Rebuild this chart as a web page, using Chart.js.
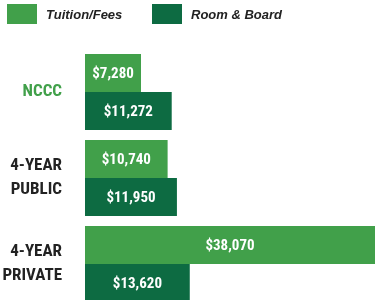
<!DOCTYPE html>
<html>
<head>
<meta charset="utf-8">
<script src="https://cdn.jsdelivr.net/npm/chart.js@4/dist/chart.umd.min.js"></script>
<style>
  html, body { margin: 0; padding: 0; width: 375px; height: 300px; overflow: hidden; background: #fff; }
  #wrap { position: relative; width: 375px; height: 307px; }
  #legend { position: absolute; left: 7px; top: 4px; display: flex; font: italic bold 13px "Liberation Sans", Arial, sans-serif; color: #222; }
  #legend .item { display: flex; align-items: center; width: 145px; }
  #legend .box { width: 30px; height: 20px; margin-right: 9px; }
</style>
</head>
<body>
<div id="wrap">
  <canvas id="costChart" width="375" height="307"></canvas>
  <div id="legend"></div>
</div>
<script>
const categories = ['NCCC', ['4-YEAR', 'PUBLIC'], ['4-YEAR', 'PRIVATE']];
const seriesNames = ['Tuition/Fees', 'Room & Board'];
const tuitionFees = [7280, 10740, 38070];
const roomBoard = [11272, 11950, 13620];
const seriesColors = ['#41a04a', '#0d6b42'];

// white $ labels inside each bar
const barLabels = {
  id: 'barLabels',
  afterDatasetsDraw(chart) {
    const ctx = chart.ctx;
    const area = chart.chartArea;
    ctx.save();
    ctx.fillStyle = '#fff';
    ctx.font = 'bold condensed 15px Roboto, sans-serif';
    ctx.textAlign = 'center';
    ctx.textBaseline = 'middle';
    chart.data.datasets.forEach((ds, i) => {
      chart.getDatasetMeta(i).data.forEach((bar, j) => {
        const right = Math.min(bar.x, area.right);
        ctx.fillText('$' + ds.data[j].toLocaleString('en-US'), (bar.base + right) / 2, bar.y + 1);
      });
    });
    ctx.restore();
  }
};

const chart = new Chart(document.getElementById('costChart'), {
  type: 'bar',
  data: {
    labels: categories,
    datasets: [
      { label: seriesNames[0], data: tuitionFees, backgroundColor: seriesColors[0] },
      { label: seriesNames[1], data: roomBoard, backgroundColor: seriesColors[1] }
    ]
  },
  options: {
    indexAxis: 'y',
    responsive: false,
    animation: false,
    categoryPercentage: 0.884,
    barPercentage: 1,
    layout: { padding: { top: 49, left: 0, right: 0, bottom: 0 } },
    plugins: {
      legend: { display: false },
      tooltip: { enabled: false }
    },
    scales: {
      x: { display: false, min: 0, max: 37700 },
      y: {
        grid: { display: false, drawTicks: false },
        border: { display: false },
        afterFit: (scale) => {
          scale.width = 85;
          scale.paddingTop = 0;
          scale.paddingBottom = 0;
        },
        ticks: {
          padding: 23,
          color: (c) => c.index === 0 ? seriesColors[0] : '#222',
          font: { family: 'Roboto, sans-serif', weight: 'bold condensed', size: 17, lineHeight: 1.4 }
        }
      }
    }
  },
  plugins: [barLabels]
});

// html legend from the datasets
const legend = document.getElementById('legend');
chart.data.datasets.forEach((ds) => {
  const item = document.createElement('div');
  item.className = 'item';
  item.innerHTML = '<span class="box" style="background:' + ds.backgroundColor + '"></span>';
  item.appendChild(document.createTextNode(ds.label));
  legend.appendChild(item);
});
</script>
</body>
</html>
